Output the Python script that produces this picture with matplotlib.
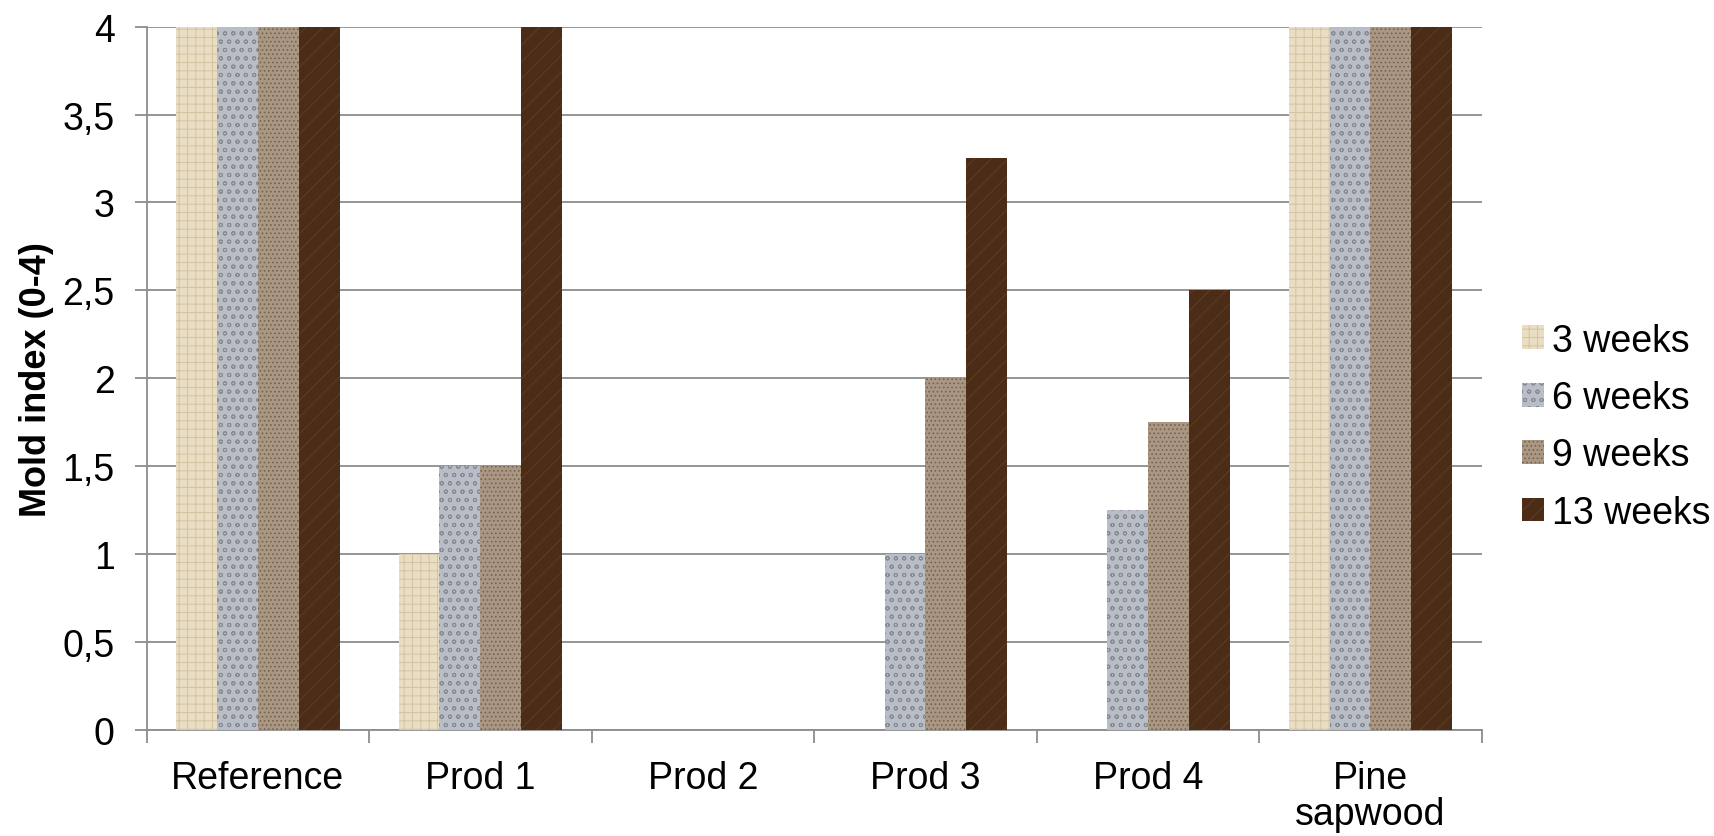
import matplotlib
import numpy as np

matplotlib.use("Agg")

import matplotlib.pyplot as plt

plt.rcParams["font.family"] = ["Liberation Sans", "DejaVu Sans"]
plt.rcParams["hatch.linewidth"] = 0.7

categories = ["Reference", "Prod 1", "Prod 2", "Prod 3", "Prod 4", "Pine\nsapwood"]
series_names = ["3 weeks", "6 weeks", "9 weeks", "13 weeks"]
weeks_3 = [4, 1, 0, 0, 0, 4]
weeks_6 = [4, 1.5, 0, 1, 1.25, 4]
weeks_9 = [4, 1.5, 0, 2, 1.75, 4]
weeks_13 = [4, 4, 0, 3.25, 2.5, 4]
y_ticks = [0, 0.5, 1, 1.5, 2, 2.5, 3, 3.5, 4]
y_tick_labels = ["0", "0,5", "1", "1,5", "2", "2,5", "3", "3,5", "4"]

# texture stand-ins: base fill + hatch colour + hatch pattern
styles = [
    ("#E9DEC4", "#D3C3A0", "++"),
    ("#B9BDC6", "#858A95", "oo"),
    ("#A99784", "#76634F", "...."),
    ("#4B2C17", "#603D22", "//"),
]

fig = plt.figure(figsize=(17.15, 8.37), dpi=100)
ax = fig.add_axes([0.0855, 0.127, 0.7785, 0.840])

x = np.arange(len(categories))
width = 0.184
for i, (vals, (face, hcol, hatch)) in enumerate(
    zip([weeks_3, weeks_6, weeks_9, weeks_13], styles)
):
    ax.bar(
        x + (i - 1.5) * width,
        vals,
        width,
        color=face,
        edgecolor=hcol,
        hatch=hatch,
        linewidth=0,
        label=series_names[i],
        zorder=3,
    )

ax.set_xlim(-0.5, len(categories) - 0.5)
ax.set_ylim(0, 4)
ax.set_yticks(y_ticks)
ax.set_yticklabels(y_tick_labels, fontsize=27)
ax.grid(True, axis="y", color="#8C8C8C", linewidth=1.3, zorder=0)

# category boundary ticks on the x axis, labels centred between them
ax.set_xticks(np.arange(-0.5, len(categories)), minor=False)
ax.set_xticklabels([""] * (len(categories) + 1))
ax.set_xticks(x, minor=True)
ax.set_xticklabels(categories, minor=True, fontsize=27, linespacing=1.0)
ax.tick_params(axis="x", which="minor", length=0, pad=22)
ax.tick_params(axis="x", which="major", length=9, color="#8C8C8C", width=1.3)
ax.tick_params(axis="y", length=9, color="#8C8C8C", width=1.3, pad=14)

for side in ("top", "right"):
    ax.spines[side].set_visible(False)
for side in ("left", "bottom"):
    ax.spines[side].set_color("#8C8C8C")
    ax.spines[side].set_linewidth(1.3)

ax.set_ylabel("Mold index (0-4)", fontsize=26, fontweight="bold", labelpad=6)

ax.legend(
    loc="center left",
    bbox_to_anchor=(1.013, 0.431),
    frameon=False,
    fontsize=27,
    handlelength=0.6,
    handleheight=0.6,
    handletextpad=0.2,
    labelspacing=0.57,
    borderaxespad=0.2,
)

fig.savefig("out.png", dpi=100)
